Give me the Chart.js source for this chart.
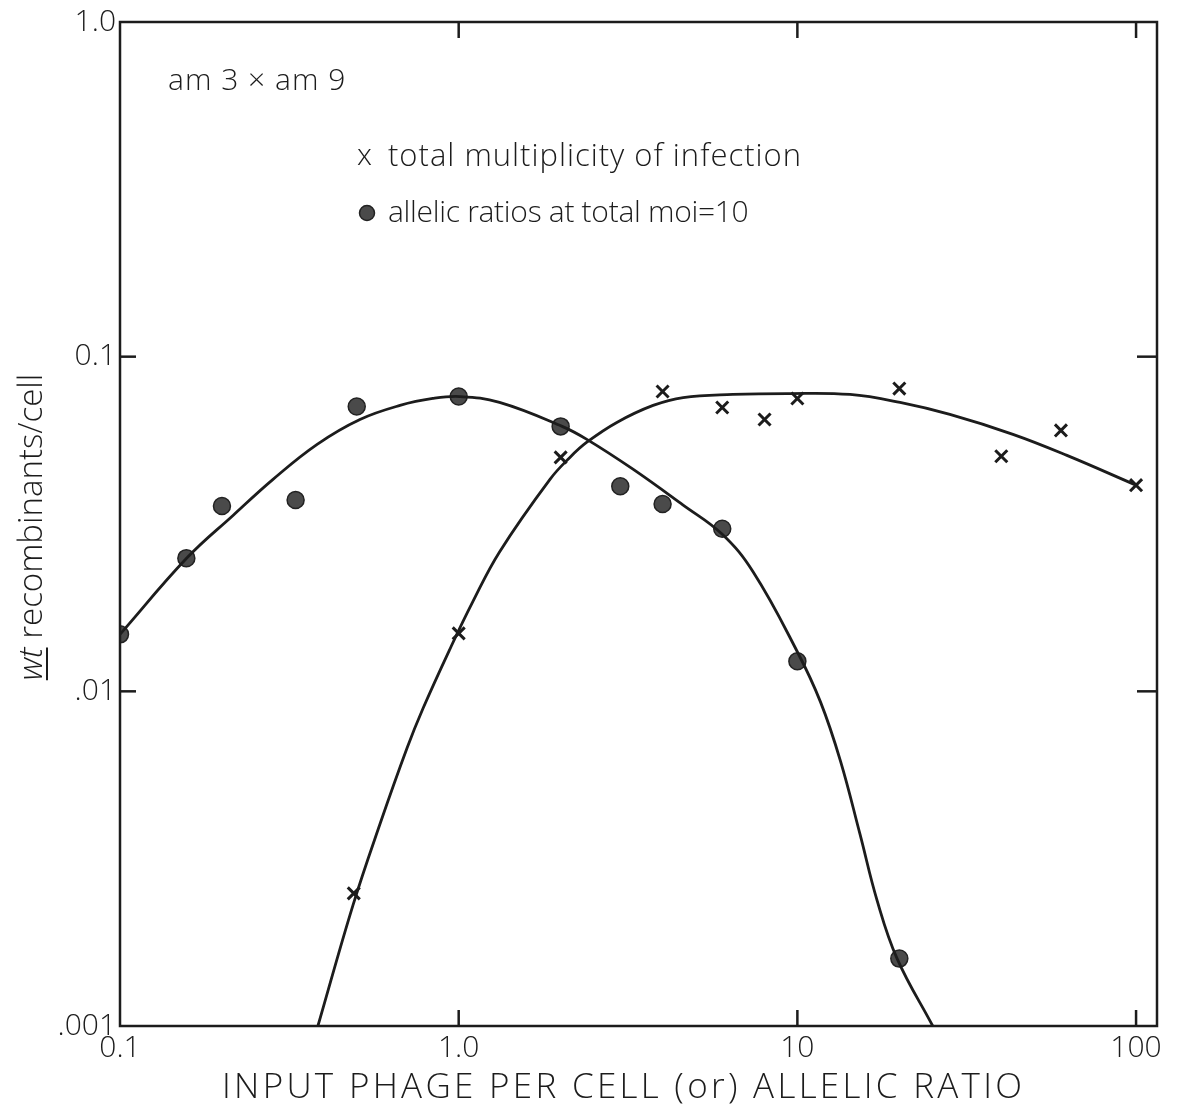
<!DOCTYPE html>
<html>
<head>
<meta charset="utf-8">
<script src="https://cdn.jsdelivr.net/npm/chart.js@4.4.1/dist/chart.umd.min.js"></script>
<style>
  html, body { margin: 0; padding: 0; background: #fff; }
  #wrap { width: 1181px; height: 1113px; position: relative; }
</style>
</head>
<body>
<div id="wrap"><canvas id="myChart"></canvas></div>
<script>
const xTicks = [0.1, 1, 10, 100];
const xTickLabels = ['0.1', '1.0', '10', '100'];
const yTicks = [0.001, 0.01, 0.1, 1];
const yTickLabels = ['.001', '.01', '0.1', '1.0'];

// allelic ratios at total moi = 10 (filled circles)
const ratioX = [0.1, 0.157, 0.2, 0.33, 0.5, 1.0, 2, 3, 4, 6, 10, 20];
const ratioY = [0.0148, 0.025, 0.0358, 0.0373, 0.071, 0.076, 0.0619, 0.041, 0.0363, 0.0306, 0.0123, 0.00159];

// total multiplicity of infection (crosses)
const moiX = [0.49, 1.0, 2, 4, 6, 8, 10, 20, 40, 60, 100];
const moiY = [0.00249, 0.0149, 0.05, 0.0787, 0.0705, 0.0649, 0.075, 0.0803, 0.0504, 0.0602, 0.0413];

// the hand drawn curves
const ratioCurveX = [0.1, 0.158, 0.216, 0.283, 0.382, 0.511, 0.671, 0.839, 1.01, 1.32, 2.02, 2.39, 3.27, 4.6, 5.99, 7.39, 9.97, 11.7, 13.4, 15.3, 17.2, 19.7, 25.1];
const ratioCurveY = [0.0148, 0.0251, 0.0336, 0.043, 0.0547, 0.0649, 0.0715, 0.075, 0.076, 0.073, 0.0619, 0.0566, 0.0461, 0.036, 0.0295, 0.0228, 0.0132, 0.0093, 0.0062, 0.00375, 0.00237, 0.00159, 0.001];

const moiCurveX = [0.384, 0.487, 0.586, 0.704, 0.785, 0.943, 1.1, 1.32, 1.86, 2.13, 2.39, 2.93, 3.75, 4.6, 6.45, 9.32, 14.3, 20.1, 28.2, 43.3, 62.5, 100];
const moiCurveY = [0.001, 0.00229, 0.00402, 0.00677, 0.0089, 0.0134, 0.0185, 0.0261, 0.043, 0.05, 0.0555, 0.0636, 0.0715, 0.0755, 0.0771, 0.0776, 0.0771, 0.073, 0.0672, 0.0586, 0.0507, 0.0413];

const ink = '#1c1c1c';
const fontFamily = "'Open Sans', 'DejaVu Sans', sans-serif";

const pts = (xs, ys) => xs.map((v, i) => ({ x: v, y: ys[i] }));

// frame, inward ticks and the hand lettering
const paperDecor = {
    id: 'paperDecor',
    afterDraw(chart) {
        const { ctx, chartArea: a, scales: { x, y } } = chart;
        ctx.save();
        ctx.strokeStyle = ink;
        ctx.fillStyle = ink;
        ctx.lineWidth = 2.5;
        ctx.strokeRect(a.left, a.top, a.right - a.left, a.bottom - a.top);

        [1, 10, 100].forEach(v => {
            const px = x.getPixelForValue(v);
            ctx.beginPath(); ctx.moveTo(px, a.bottom); ctx.lineTo(px, a.bottom - 16); ctx.stroke();
            ctx.beginPath(); ctx.moveTo(px, a.top); ctx.lineTo(px, a.top + 16); ctx.stroke();
        });
        [0.01, 0.1].forEach(v => {
            const py = y.getPixelForValue(v);
            ctx.beginPath(); ctx.moveTo(a.left, py); ctx.lineTo(a.left + 16, py); ctx.stroke();
            ctx.beginPath(); ctx.moveTo(a.right, py); ctx.lineTo(a.right - 20, py); ctx.stroke();
        });

        // y title: underlined italic "wt"
        ctx.save();
        ctx.translate(42, 527);
        ctx.rotate(-Math.PI / 2);
        ctx.textBaseline = 'alphabetic';
        ctx.font = `italic 300 33px ${fontFamily}`;
        const wt = 'wt';
        const wtW = ctx.measureText(wt).width;
        ctx.font = `300 33px ${fontFamily}`;
        const rest = ' recombinants/cell';
        const restW = ctx.measureText(rest).width;
        let sx = -(wtW + restW) / 2;
        ctx.font = `italic 300 33px ${fontFamily}`;
        ctx.fillText(wt, sx, 0);
        ctx.lineWidth = 2;
        ctx.beginPath(); ctx.moveTo(sx, 5); ctx.lineTo(sx + wtW, 5); ctx.stroke();
        ctx.font = `300 33px ${fontFamily}`;
        ctx.fillText(rest, sx + wtW, 0);
        ctx.restore();

        // x title
        ctx.font = `300 35px ${fontFamily}`;
        const xt = 'INPUT PHAGE PER CELL (or) ALLELIC RATIO';
        const nat = ctx.measureText(xt).width;
        ctx.letterSpacing = ((800 - nat) / (xt.length - 1)).toFixed(2) + 'px';
        ctx.textAlign = 'left';
        ctx.fillText(xt, 222, 1098);
        ctx.letterSpacing = '0px';

        // cross label and legend
        ctx.font = `300 30px ${fontFamily}`;
        ctx.letterSpacing = '1px';
        ctx.fillText('am 3 \u00d7 am 9', 168, 90);
        ctx.fillText('x', 357, 165);
        ctx.font = `300 31px ${fontFamily}`;
        ctx.fillText('total multiplicity of infection', 388, 166);
        ctx.font = `300 30px ${fontFamily}`;
        ctx.letterSpacing = '-0.3px';
        ctx.fillText('allelic ratios at total moi=10', 388, 222);
        ctx.letterSpacing = '0px';
        ctx.fillStyle = '#4a4a4a';
        ctx.strokeStyle = '#222';
        ctx.lineWidth = 1.5;
        ctx.beginPath(); ctx.arc(367, 213, 7.5, 0, Math.PI * 2); ctx.fill(); ctx.stroke();
        ctx.restore();
    }
};

const config = {
    type: 'scatter',
    data: {
        datasets: [
            {
                label: 'allelic curve',
                data: pts(ratioCurveX, ratioCurveY),
                showLine: true,
                borderColor: ink,
                borderWidth: 2.8,
                pointRadius: 0,
                tension: 0.4
            },
            {
                label: 'moi curve',
                data: pts(moiCurveX, moiCurveY),
                showLine: true,
                borderColor: ink,
                borderWidth: 2.8,
                pointRadius: 0,
                tension: 0.4
            },
            {
                label: 'allelic ratios at total moi=10',
                data: pts(ratioX, ratioY),
                pointStyle: 'circle',
                pointRadius: 8.5,
                backgroundColor: '#4a4a4a',
                borderColor: '#222',
                borderWidth: 1.5
            },
            {
                label: 'total multiplicity of infection',
                data: pts(moiX, moiY),
                pointStyle: 'crossRot',
                pointRadius: 8.5,
                borderColor: ink,
                borderWidth: 3
            }
        ]
    },
    options: {
        responsive: true,
        maintainAspectRatio: false,
        animation: false,
        layout: { padding: { top: 18, right: 24, left: 0, bottom: 0 } },
        plugins: {
            legend: { display: false },
            tooltip: { enabled: false }
        },
        scales: {
            x: {
                type: 'logarithmic',
                min: 0.1,
                max: 115.3,
                afterBuildTicks: (s) => { s.ticks = xTicks.map(v => ({ value: v })); },
                afterFit: (s) => { s.height = 87; },
                grid: { display: false, drawTicks: false },
                border: { display: false },
                ticks: {
                    autoSkip: false,
                    maxRotation: 0,
                    padding: 4,
                    color: ink,
                    font: { family: fontFamily, size: 30, weight: '300' },
                    callback: (v) => xTickLabels[xTicks.indexOf(v)]
                }
            },
            y: {
                type: 'logarithmic',
                min: 0.001,
                max: 1,
                afterBuildTicks: (s) => { s.ticks = yTicks.map(v => ({ value: v })); },
                afterFit: (s) => { s.width = 120; },
                grid: { display: false, drawTicks: false },
                border: { display: false },
                ticks: {
                    autoSkip: false,
                    padding: 4,
                    color: ink,
                    font: { family: fontFamily, size: 30, weight: '300' },
                    callback: (v) => yTickLabels[yTicks.indexOf(v)]
                }
            }
        }
    },
    plugins: [paperDecor]
};

new Chart(document.getElementById('myChart').getContext('2d'), config);
</script>
</body>
</html>
